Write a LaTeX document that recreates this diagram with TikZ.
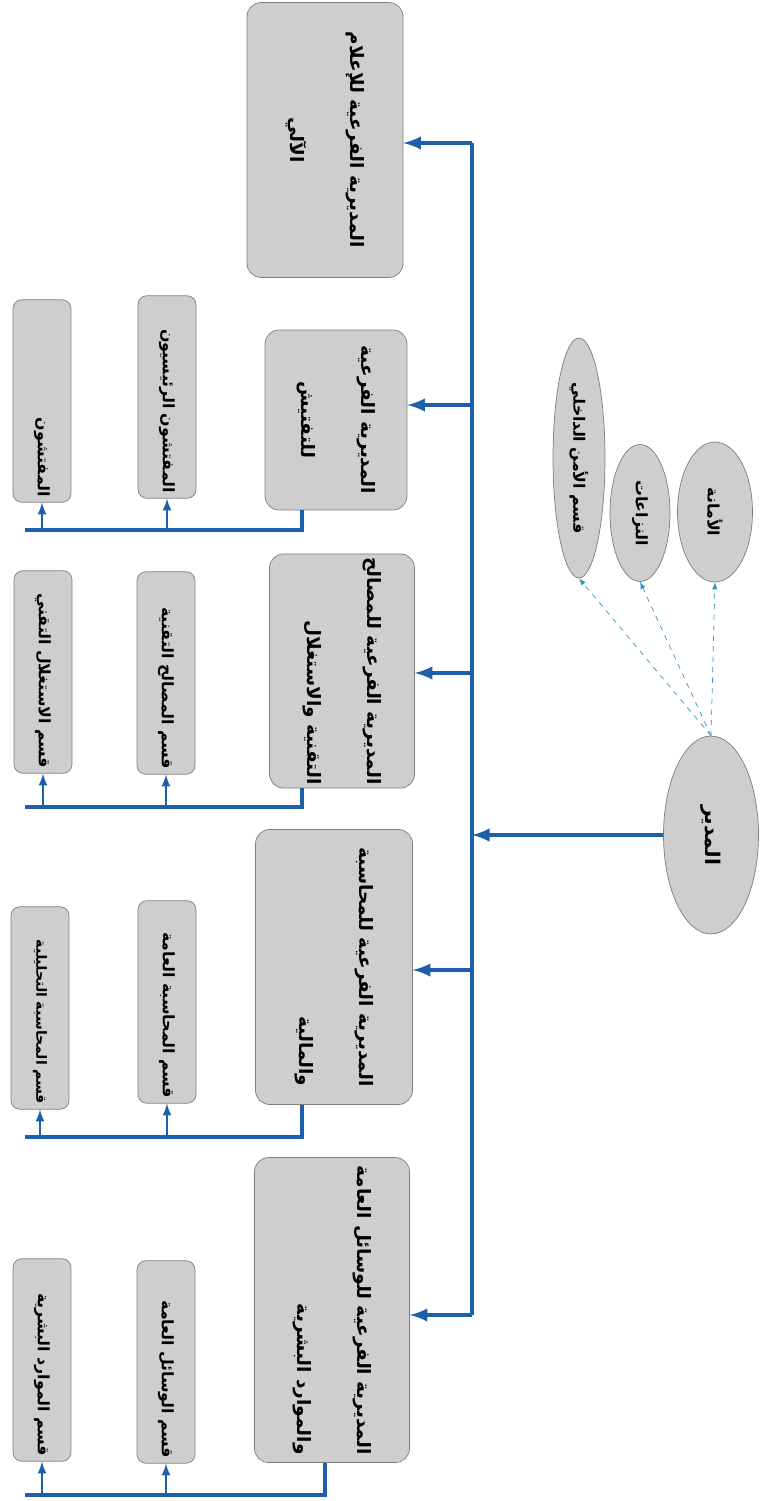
\documentclass[tikz,border=0pt]{standalone}
\usepackage{fontspec}
\newfontfamily\arabicfont[Script=Arabic]{DejaVu Sans}
\TeXXeTstate=1
\usepackage{tikz}
\usetikzlibrary{shapes,arrows,positioning}

\definecolor{linkblue}{RGB}{30,95,170}
\definecolor{staffblue}{RGB}{45,150,200}
\definecolor{boxgray}{RGB}{206,206,206}
\definecolor{edgegray}{RGB}{125,125,125}
\newcommand{\rtl}[1]{\beginR #1\endR}
\newcommand{\BoxFont}{\arabicfont\bfseries\fontsize{10.5}{34}\selectfont}
\newcommand{\UnitFont}{\arabicfont\bfseries\fontsize{9}{11}\selectfont}

\begin{document}
\begin{tikzpicture}[x=0.02cm,y=-0.02cm]
	\tikzstyle{Branch}	= [rectangle, rounded corners=8pt, draw=edgegray, fill=boxgray, rotate=-90, inner sep=2pt, font=\BoxFont]
	\tikzstyle{Unit}	= [rectangle, rounded corners=5pt, draw=edgegray, fill=boxgray, rotate=-90, minimum width=4.05cm, minimum height=1.16cm, text width=3.85cm, align=right, inner sep=2pt, font=\UnitFont]
	\tikzstyle{Head}	= [ellipse, draw=edgegray, fill=boxgray, rotate=-90, inner sep=0pt, font=\UnitFont]
	\tikzstyle{Trunk}	= [line width=2.4pt, linkblue]
	\tikzstyle{Link}	= [Trunk, -latex]
	\tikzstyle{Bus}		= [line width=2pt, linkblue]
	\tikzstyle{Sub}		= [line width=1.3pt, linkblue, -latex]
	\tikzstyle{Staff}	= [dashed, thin, staffblue, -latex]

	\useasboundingbox (0,0) rectangle (760,1501);

	% director and staff units
	\node (dir) at (711,835) [Head, minimum width=3.96cm, minimum height=1.9cm, font=\arabicfont\bfseries\fontsize{11.5}{14}\selectfont] {\rtl{المدير}};
	\node (sec) at (579,458) [Head, minimum width=4.8cm, minimum height=1.04cm] {\rtl{قسم الأمن الداخلي}};
	\node (lit) at (640,513) [Head, minimum width=2.74cm, minimum height=1.2cm] {\rtl{النزاعات}};
	\node (secr) at (715,512) [Head, minimum width=2.8cm, minimum height=1.5cm] {\rtl{الأمانة}};
	\foreach \s in {sec, lit, secr}
		\draw [Staff] (dir.west) to (\s.east);

	% sub-directorates
	\node (b1) at (325,140) [Branch, minimum width=5.5cm, minimum height=3.12cm, align=center] {\rtl{المديرية الفرعية للإعلام}\\\rtl{الآلي}};
	\node (b2) at (336,420) [Branch, minimum width=3.6cm, minimum height=2.84cm, align=center] {\rtl{المديرية الفرعية}\\\rtl{للتفتيش}};
	\node (b3) at (342,671) [Branch, minimum width=4.64cm, minimum height=2.9cm, align=right] {\rtl{المديرية الفرعية للمصالح}\\\rtl{التقنية والاستغلال}};
	\node (b4) at (334,967) [Branch, minimum width=5.5cm, minimum height=3.14cm, align=right] {\rtl{المديرية الفرعية للمحاسبة}\\\rtl{والمالية}};
	\node (b5) at (332,1310) [Branch, minimum width=6.1cm, minimum height=3.1cm, align=right] {\rtl{المديرية الفرعية للوسائل العامة}\\\rtl{والموارد البشرية}};

	% units
	\node (s2a) at (167,397) [Unit] {\rtl{المفتشون الرئيسيون}};
	\node (s2b) at (42,401) [Unit] {\rtl{المفتشون}};
	\node (s3a) at (166,673) [Unit] {\rtl{قسم المصالح التقنية}};
	\node (s3b) at (43,672) [Unit] {\rtl{قسم الاستغلال التقني}};
	\node (s4a) at (167,1002) [Unit] {\rtl{قسم المحاسبة العامة}};
	\node (s4b) at (40,1008) [Unit, font=\arabicfont\bfseries\fontsize{8}{10}\selectfont] {\rtl{قسم المحاسبة التحليلية}};
	\node (s5a) at (166,1362) [Unit] {\rtl{قسم الوسائل العامة}};
	\node (s5b) at (42,1360) [Unit] {\rtl{قسم الموارد البشرية}};

	% trunk from the director
	\coordinate (t1) at (472,143);
	\coordinate (t2) at (472,405);
	\coordinate (t3) at (472,673);
	\coordinate (t4) at (472,970);
	\coordinate (t5) at (472,1315);
	\draw [Trunk] (t1) -- (t5);
	\draw [Link] (dir.south) -- (dir.south -| t1);
	\foreach \i in {1,...,5}
		\draw [Link] (t\i) -- (t\i -| b\i.north);

	% buses to the units
	\foreach \i/\x/\y in {2/302/530, 3/302/807, 4/302/1137, 5/325/1495}{
		\coordinate (k\i) at (\x,\y);
		\coordinate (e\i) at (25,\y);
		\draw [Bus] (b\i.east -| k\i) -- (k\i) -- (e\i);
		\draw [Sub] (s\i a |- k\i) -- (s\i a.east);
		\draw [Sub] (s\i b |- k\i) -- (s\i b.east);
	}
\end{tikzpicture}
\end{document}
